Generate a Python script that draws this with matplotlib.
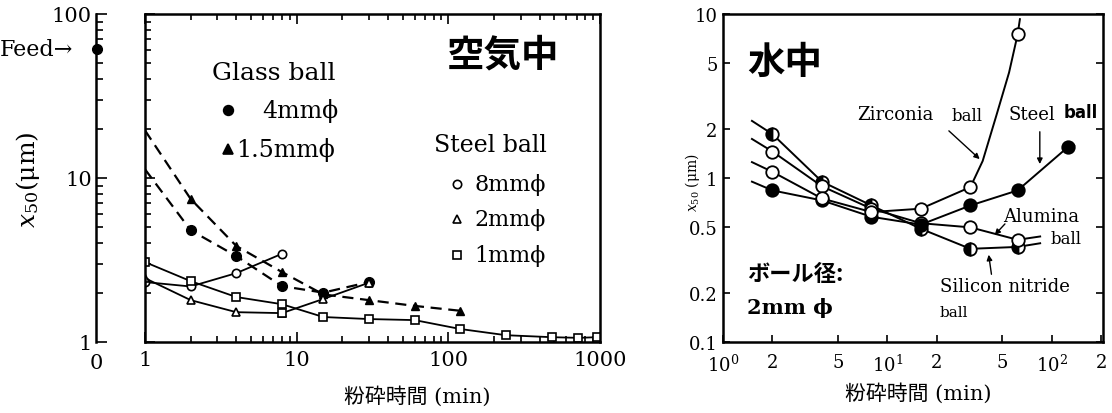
import matplotlib
matplotlib.use("Agg")
import matplotlib.pyplot as plt
from matplotlib.ticker import FixedLocator, NullLocator, NullFormatter

W, H = 1112, 414  # output size in px (dpi 100)
SERIF = ["DejaVu Serif", "DejaVu Sans"]
JP = ["Noto Sans CJK JP", "DejaVu Serif"]
JP_LABEL = ["DejaVu Serif", "Noto Sans CJK JP"]  # serif latin, CJK falls back
plt.rcParams["mathtext.fontset"] = "dejavuserif"

# ---------------- left panel: grinding in air ----------------
feed_y = 61.0

# glass balls (filled markers, dashed fitted curves); *_start = curve value at t=1
glass4_t = [2, 4, 8, 15, 30]
glass4_y = [4.8, 3.34, 2.19, 2.0, 2.32]
glass4_start = 11.3

glass15_t = [2, 4, 8, 15, 30, 60, 120]
glass15_y = [7.45, 3.85, 2.67, 1.95, 1.80, 1.66, 1.55]
glass15_start = 19.5

# steel balls (open markers, solid curves)
steel8_t = [1, 2, 4, 8]
steel8_y = [2.32, 2.18, 2.63, 3.45]

steel2_t = [1, 2, 4, 8, 15, 30]
steel2_y = [2.45, 1.80, 1.52, 1.50, 1.83, 2.30]

steel1_t = [1, 2, 4, 8, 15, 30, 60, 120, 240, 480, 720, 960]
steel1_y = [3.07, 2.35, 1.88, 1.70, 1.42, 1.38, 1.36, 1.20, 1.10, 1.07, 1.06, 1.07]
steel1_extra_t = [8]
steel1_extra_y = [1.50]

left_xticks = [1, 10, 100, 1000]
left_xlabels = ["1", "10", "100", "1000"]
left_yticks = [1, 10, 100]
left_ylabels = ["1", "10", "100"]

# ---------------- right panel: grinding in water (2 mm balls) ----------------
# *_start_t / *_start = where the fitted curve begins, *_end_t / *_end = where it stops
sin_t = [2, 4, 8, 16, 32, 62]
sin_y = [1.85, 0.95, 0.68, 0.49, 0.37, 0.38]
sin_start_t, sin_start = 1.5, 2.23
sin_end_t, sin_end = 85, 0.40

alu_t = [2, 4, 8, 16, 32, 62]
alu_y = [1.45, 0.89, 0.65, 0.53, 0.50, 0.42]
alu_start_t, alu_start = 1.5, 1.73
alu_end_t, alu_end = 85, 0.44

zir_t = [2, 4, 8, 16, 32, 62]
zir_y = [1.09, 0.75, 0.62, 0.65, 0.88, 7.5]
zir_start_t, zir_start = 1.5, 1.25
zir_end_t, zir_end = 64, 9.3
# points read along the steep zirconia curve between the last two markers
zir_bend_t = [38, 46, 55]
zir_bend_y = [1.27, 2.4, 4.4]

stl_t = [2, 4, 8, 16, 32, 62, 125]
stl_y = [0.84, 0.73, 0.58, 0.52, 0.68, 0.84, 1.54]
stl_start_t, stl_start = 1.5, 0.95
stl_end_t, stl_end = 137, 1.58

right_xticks = [1, 2, 5, 10, 20, 50, 100, 200]
right_xlabels = ["$10^0$", "2", "5", "$10^1$", "2", "5", "$10^2$", "2"]
right_yticks = [0.1, 0.2, 0.5, 1, 2, 5, 10]
right_ylabels = ["0.1", "0.2", "0.5", "1", "2", "5", "10"]


def fx(px):
    return px / W


def fy(py):
    return 1 - py / H


def ftext(fig, px, py, s, size, family=SERIF, ha="left", **kw):
    fig.text(fx(px), fy(py), s, fontsize=size, family=family, ha=ha, va="center", **kw)


def key(fig, px, py, marker, filled, ms=6):
    fig.add_artist(plt.Line2D([fx(px)], [fy(py)], marker=marker, ms=ms, color="k",
                              mfc="k" if filled else "white", mew=1.2,
                              transform=fig.transFigure))


fig = plt.figure(figsize=(W / 100, H / 100), dpi=100)

# ---- left main axes ----
ax = fig.add_axes([fx(145), fy(343), (600 - 145) / W, (343 - 15) / H])
ax.set_xscale("log")
ax.set_yscale("log")
ax.set_xlim(1, 1000)
ax.set_ylim(1, 100)
ax.xaxis.set_major_locator(FixedLocator(left_xticks))
ax.set_xticklabels(left_xlabels)
ax.tick_params(which="both", direction="in", top=True, bottom=True, left=True, right=False,
               labelleft=False, width=1.2)
ax.tick_params(which="major", length=7, labelsize=15, pad=6)
ax.tick_params(which="minor", length=4)
ax.yaxis.set_minor_formatter(NullFormatter())
ax.xaxis.set_minor_formatter(NullFormatter())
for lab in ax.get_xticklabels():
    lab.set_family(SERIF)
for sp in ax.spines.values():
    sp.set_linewidth(1.8)

dash = (0, (5, 3))
ax.plot([1] + glass15_t, [glass15_start] + glass15_y, color="k", lw=1.6, ls=dash)
ax.plot(glass15_t, glass15_y, "^", color="k", ms=6)
ax.plot([1] + glass4_t, [glass4_start] + glass4_y, color="k", lw=1.6, ls=dash)
ax.plot(glass4_t, glass4_y, "o", color="k", ms=7)

ax.plot(steel8_t, steel8_y, "-o", color="k", lw=1.3, ms=6, mfc="white", mew=1.2)
ax.plot(steel2_t, steel2_y, "-^", color="k", lw=1.3, ms=6, mfc="white", mew=1.2)
ax.plot(steel1_t, steel1_y, "-s", color="k", lw=1.3, ms=6, mfc="white", mew=1.2)
ax.plot(steel1_extra_t, steel1_extra_y, "s", color="k", ms=6, mfc="white", mew=1.2)

# ---- left "0" axis carrying the y scale and the feed point ----
ax0 = fig.add_axes([fx(96), fy(343), 1.5 / W, (343 - 15) / H])
ax0.set_yscale("log")
ax0.set_ylim(1, 100)
ax0.set_xlim(-1, 1)
for s in ("top", "right", "bottom"):
    ax0.spines[s].set_visible(False)
ax0.spines["left"].set_linewidth(1.8)
ax0.yaxis.set_major_locator(FixedLocator(left_yticks))
ax0.set_yticklabels(left_ylabels)
ax0.yaxis.set_minor_formatter(NullFormatter())
ax0.tick_params(axis="y", which="both", direction="in", width=1.2)
ax0.tick_params(axis="y", which="major", length=8, labelsize=15, pad=3)
ax0.tick_params(axis="y", which="minor", length=5)
ax0.set_xticks([0])
ax0.set_xticklabels(["0"])
ax0.tick_params(axis="x", length=0, labelsize=15, pad=8)
for lab in ax0.get_xticklabels() + ax0.get_yticklabels():
    lab.set_family(SERIF)
ax0.plot([0], [feed_y], "o", color="k", ms=7, clip_on=False)
ftext(fig, 0, 50, "Feed→", 16)

fig.text(fx(28), fy(180), r"$x_{50}$(μm)", fontsize=18, family=SERIF, rotation=90,
         ha="center", va="center")
ftext(fig, 417, 396, "粉砕時間 (min)", 15, family=JP_LABEL, ha="center")

# left annotations
ftext(fig, 447, 55, "空気中", 27, family=JP, weight="bold")
ftext(fig, 212, 74, "Glass ball", 18)
key(fig, 228, 111, "o", True, ms=7)
ftext(fig, 262, 111, "4mmϕ", 17)
key(fig, 228, 150, "^", True, ms=7)
ftext(fig, 236, 150, "1.5mmϕ", 17)
ftext(fig, 434, 146, "Steel ball", 17)
key(fig, 457, 185, "o", False)
ftext(fig, 474, 185, "8mmϕ", 16)
key(fig, 457, 220, "^", False)
ftext(fig, 474, 220, "2mmϕ", 16)
key(fig, 457, 256, "s", False)
ftext(fig, 474, 256, "1mmϕ", 16)

# ---- right axes ----
axr = fig.add_axes([fx(723), fy(343), (1103 - 723) / W, (343 - 15) / H])
axr.set_xscale("log")
axr.set_yscale("log")
axr.set_xlim(1, 205)
axr.set_ylim(0.1, 10)
axr.xaxis.set_major_locator(FixedLocator(right_xticks))
axr.set_xticklabels(right_xlabels)
axr.yaxis.set_major_locator(FixedLocator(right_yticks))
axr.set_yticklabels(right_ylabels)
axr.xaxis.set_minor_locator(NullLocator())
axr.yaxis.set_minor_locator(NullLocator())
axr.tick_params(which="both", direction="in", top=False, bottom=True, left=True, right=True,
                length=5, width=1.2, labelsize=13, pad=4)
axr.tick_params(axis="x", pad=8)
for lab in axr.get_xticklabels() + axr.get_yticklabels():
    lab.set_family(SERIF)
for sp in axr.spines.values():
    sp.set_linewidth(1.8)

series = [
    (sin_t, sin_y, sin_start_t, sin_start, sin_end_t, sin_end, dict(mfc="k", fillstyle="left")),
    (alu_t, alu_y, alu_start_t, alu_start, alu_end_t, alu_end, dict(mfc="white")),
    (stl_t, stl_y, stl_start_t, stl_start, stl_end_t, stl_end, dict(mfc="k")),
]
for t, y, t0, y0, t1, y1, style in series:
    axr.plot([t0] + t + [t1], [y0] + y + [y1], color="k", lw=1.4)
    mk = axr.plot(t, y, "o", color="k", ms=9, mew=1.3, **style)[0]
    mk.set_markerfacecoloralt("white")

# zirconia: line bends sharply upward after the 32 min point
axr.plot([zir_start_t] + zir_t[:-1] + zir_bend_t + zir_t[-1:] + [zir_end_t],
         [zir_start] + zir_y[:-1] + zir_bend_y + zir_y[-1:] + [zir_end], color="k", lw=1.4)
axr.plot(zir_t, zir_y, "o", color="k", ms=9, mew=1.3, mfc="white")

# arrows
arrow = dict(arrowstyle="-|>", color="k", lw=1.0, mutation_scale=8)
axr.annotate("", xy=(37.5, 1.27), xytext=(23, 1.99), arrowprops=arrow)
axr.annotate("", xy=(84.6, 1.17), xytext=(84.6, 1.99), arrowprops=arrow)
axr.annotate("", xy=(43.8, 0.437), xytext=(53.3, 0.54), arrowprops=arrow)
axr.annotate("", xy=(41.1, 0.354), xytext=(43.2, 0.249), arrowprops=arrow)

ftext(fig, 747, 62, "水中", 27, family=JP, weight="bold")
ftext(fig, 857, 115, "Zirconia", 13)
ftext(fig, 952, 117, "ball", 12)
ftext(fig, 1008, 115, "Steel", 13)
ftext(fig, 1064, 113, "ball", 12, family=["DejaVu Sans"], weight="bold")
ftext(fig, 1003, 217, "Alumina", 13)
ftext(fig, 1051, 240, "ball", 12)
ftext(fig, 940, 287, "Silicon nitride", 13)
ftext(fig, 940, 313, "ball", 11)
ftext(fig, 747, 275, "ボール径:", 16, family=JP, weight="bold")
ftext(fig, 747, 308, "2mm ϕ", 15, weight="bold")

fig.text(fx(692), fy(183), r"$x_{50}$ (μm)", fontsize=10, family=SERIF, rotation=90,
         ha="center", va="center")
ftext(fig, 918, 393, "粉砕時間 (min)", 15, family=JP_LABEL, ha="center")

fig.savefig("out.png", dpi=100)
